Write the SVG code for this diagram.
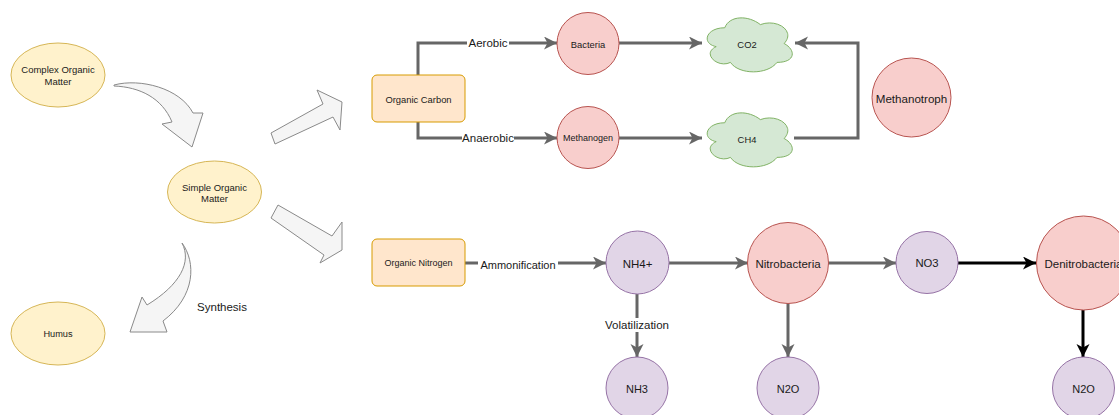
<svg xmlns="http://www.w3.org/2000/svg" width="1119" height="415" viewBox="0 0 1119 415">
<defs>
<style>
text{font-family:"Liberation Sans",Arial,sans-serif;fill:#1a1a1a;text-anchor:middle;dominant-baseline:central}
.yel{fill:#fff2cc;stroke:#d6b656;stroke-width:1}
.org{fill:#ffe6cc;stroke:#d79b00;stroke-width:1}
.red{fill:#f8cecc;stroke:#b85450;stroke-width:1}
.pur{fill:#e1d5e7;stroke:#9673a6;stroke-width:1}
.grn{fill:#d5e8d4;stroke:#82b366;stroke-width:1}
.blk{fill:#f5f5f5;stroke:#8a8a8a;stroke-width:1}
.c{fill:none;stroke:#666;stroke-width:3}
.cb{fill:none;stroke:#000;stroke-width:3}
.lbl{fill:#fff;stroke:none}
</style>
<marker id="ag" markerUnits="userSpaceOnUse" markerWidth="14" markerHeight="14" refX="13" refY="6.5" orient="auto">
<path d="M0,0 L13,6.5 L0,13 L3.5,6.5 Z" fill="#666"/>
</marker>
<marker id="ab" markerUnits="userSpaceOnUse" markerWidth="14" markerHeight="14" refX="13" refY="6.5" orient="auto">
<path d="M0,0 L13,6.5 L0,13 L3.5,6.5 Z" fill="#000"/>
</marker>
</defs>
<rect width="1119" height="415" fill="#fff"/>

<g id="connectors">
<path class="c" d="M418,75 V43 H557" marker-end="url(#ag)"/>
<path class="c" d="M418,122 V138 H557" marker-end="url(#ag)"/>
<path class="c" d="M619,43 H702" marker-end="url(#ag)"/>
<path class="c" d="M619,138 H702" marker-end="url(#ag)"/>
<path class="c" d="M794,138 H858 V43 H795" marker-end="url(#ag)"/>
<path class="c" d="M465,263 H606" marker-end="url(#ag)"/>
<path class="c" d="M669,263 H748" marker-end="url(#ag)"/>
<path class="c" d="M637,294 V357" marker-end="url(#ag)"/>
<path class="c" d="M788,303 V357" marker-end="url(#ag)"/>
<path class="c" d="M828,263 H896" marker-end="url(#ag)"/>
<path class="cb" d="M958,263 H1036" marker-end="url(#ab)"/>
<path class="cb" d="M1083,310 V357" marker-end="url(#ab)"/>
<rect class="lbl" x="467" y="36" width="42" height="14"/>
<text x="488" y="43" font-size="11.5">Aerobic</text>
<rect class="lbl" x="462" y="131" width="52" height="14"/>
<text x="488" y="138" font-size="11.5">Anaerobic</text>
<rect class="lbl" x="478" y="258" width="80" height="14"/>
<text x="518" y="265" font-size="11">Ammonification</text>
<rect class="lbl" x="604" y="318" width="66" height="14"/>
<text x="637" y="325" font-size="11.5">Volatilization</text>
</g>

<g id="block-arrows">
<path class="blk" d="M114,85 C140,78 180,88 193,113 L203,113 L192,147 L162,124 L172,122 C162,98 140,87 114,86 Z"/>
<path class="blk" d="M271,133 L323,104 L317,90 L342,102 L340,130 L333,117 L275,144 Z"/>
<path class="blk" d="M271,218 L278,205 L332,236 L342,222 L342,250 L320,263 L324,255 Z"/>
<path class="blk" d="M182,243 C196,262 196,296 163,321 L167,332 L130,332 L142,297 L147,305 C180,285 192,262 182,243 Z"/>
<text x="222" y="307" font-size="11.5">Synthesis</text>
</g>

<g id="complex-organic-matter">
<ellipse class="yel" cx="58" cy="75" rx="47" ry="32"/>
<text x="58" y="69" font-size="9.5">Complex Organic</text>
<text x="58" y="81" font-size="9.5">Matter</text>
</g>
<g id="simple-organic-matter">
<ellipse class="yel" cx="214.5" cy="192" rx="47" ry="31"/>
<text x="214.5" y="187" font-size="9.5">Simple Organic</text>
<text x="214.5" y="198" font-size="9.5">Matter</text>
</g>
<g id="humus">
<ellipse class="yel" cx="58" cy="333.5" rx="47" ry="31.5"/>
<text x="58" y="334" font-size="9.2">Humus</text>
</g>
<g id="organic-carbon">
<rect class="org" x="372" y="75" width="93" height="47" rx="5"/>
<text x="418.5" y="99" font-size="9.4">Organic Carbon</text>
</g>
<g id="organic-nitrogen">
<rect class="org" x="372" y="239" width="93" height="47" rx="5"/>
<text x="418.5" y="263" font-size="9">Organic Nitrogen</text>
</g>
<g id="bacteria">
<circle class="red" cx="588" cy="43.5" r="31"/>
<text x="588" y="44" font-size="9.4">Bacteria</text>
</g>
<g id="methanogen">
<circle class="red" cx="588" cy="137.5" r="31"/>
<text x="588" y="138" font-size="9">Methanogen</text>
</g>
<g id="co2">
<path class="grn" d="M724.75,27.75 C705.75,27.75 701,43.5 716.2,46.65 C701,53.58 718.1,68.7 730.45,62.4 C739,75 767.5,75 777,62.4 C796,62.4 796,49.8 784.125,43.5 C796,30.9 777,18.3 760.375,24.6 C748.5,15.15 729.5,15.15 724.75,27.75 Z"/>
<text x="747" y="44" font-size="9.4">CO2</text>
</g>
<g id="ch4">
<path class="grn" d="M724.75,122.75 C705.75,122.75 701,138.5 716.2,141.65 C701,148.58 718.1,163.7 730.45,157.4 C739,170 767.5,170 777,157.4 C796,157.4 796,144.8 784.125,138.5 C796,125.9 777,113.3 760.375,119.6 C748.5,110.15 729.5,110.15 724.75,122.75 Z"/>
<text x="747" y="139" font-size="9.4">CH4</text>
</g>
<g id="methanotroph">
<circle class="red" cx="911.5" cy="97.5" r="39.5"/>
<text x="911.5" y="98" font-size="11.6">Methanotroph</text>
</g>
<g id="nh4">
<circle class="pur" cx="637.5" cy="262.5" r="31.5"/>
<text x="637.5" y="264" font-size="11.5">NH4+</text>
</g>
<g id="nitrobacteria">
<circle class="red" cx="788" cy="263" r="40.5"/>
<text x="788" y="264" font-size="11.5">Nitrobacteria</text>
</g>
<g id="no3">
<circle class="pur" cx="927" cy="262.5" r="31"/>
<text x="927" y="263" font-size="11.3">NO3</text>
</g>
<g id="denitrobacteria">
<circle class="red" cx="1083.5" cy="263" r="47"/>
<text x="1083.5" y="264" font-size="11.5">Denitrobacteria</text>
</g>
<g id="nh3">
<circle class="pur" cx="637" cy="388" r="31"/>
<text x="637" y="389" font-size="11">NH3</text>
</g>
<g id="n2o-1">
<circle class="pur" cx="788" cy="388" r="31"/>
<text x="788" y="389" font-size="11">N2O</text>
</g>
<g id="n2o-2">
<circle class="pur" cx="1083.5" cy="388" r="31"/>
<text x="1083.5" y="389" font-size="11">N2O</text>
</g>
</svg>
